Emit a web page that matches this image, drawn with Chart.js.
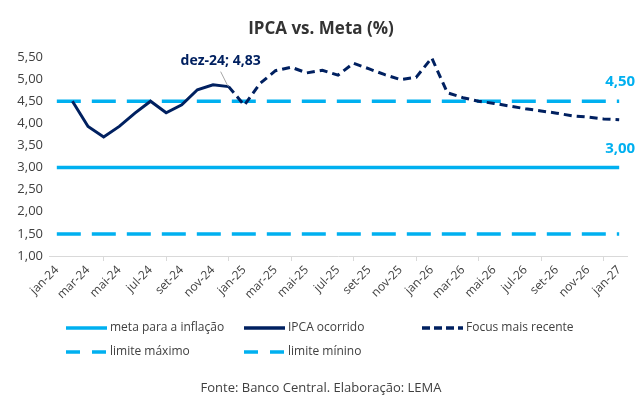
<!DOCTYPE html>
<html>
<head>
<meta charset="utf-8">
<script src="https://cdn.jsdelivr.net/npm/chart.js@4.4.1/dist/chart.umd.min.js"></script>
<style>
  html, body { margin: 0; padding: 0; background: #fff; }
  #wrap { position: relative; width: 642px; height: 397px; font-family: "Open Sans", sans-serif; color: #404040; }
  #chart { position: absolute; left: 0; top: 0; }
  .title { position: absolute; left: 0; width: 642px; top: 16px; text-align: center; font-weight: bold; font-size: 17px; color: #333; }
  .leg { position: absolute; font-size: 12px; line-height: 16px; white-space: nowrap; }
  .leg svg { vertical-align: middle; margin-right: 3px; }
  .foot { position: absolute; left: 0; width: 642px; top: 378px; text-align: center; font-size: 13px; }
</style>
</head>
<body>
<div id="wrap">
  <canvas id="chart" width="642" height="397"></canvas>
  <div class="title">IPCA vs. Meta (%)</div>
  <div class="foot">Fonte: Banco Central. Elaboração: LEMA</div>
</div>
<script>
const months = ["jan-24","fev-24","mar-24","abr-24","mai-24","jun-24","jul-24","ago-24","set-24","out-24","nov-24","dez-24",
  "jan-25","fev-25","mar-25","abr-25","mai-25","jun-25","jul-25","ago-25","set-25","out-25","nov-25","dez-25",
  "jan-26","fev-26","mar-26","abr-26","mai-26","jun-26","jul-26","ago-26","set-26","out-26","nov-26","dez-26",
  "jan-27"];

const ipca = [null, 4.50, 3.93, 3.69, 3.93, 4.23, 4.50, 4.24, 4.42, 4.76, 4.87, 4.83];

const focus = [null, null, null, null, null, null, null, null, null, null, null, 4.83,
  4.41, 4.90, 5.19, 5.27, 5.14, 5.20, 5.09, 5.36, 5.23, 5.10, 4.99, 5.04,
  5.48, 4.69, 4.58, 4.50, 4.45, 4.39, 4.33, 4.28, 4.23, 4.17, 4.14, 4.10,
  4.08];

const meta = months.map(() => 3.00);
const limiteMax = months.map(() => 4.50);
const limiteMin = months.map(() => 1.50);

const yTicks = [1.00, 1.50, 2.00, 2.50, 3.00, 3.50, 4.00, 4.50, 5.00, 5.50];

const lightBlue = "#00B0F0";
const navy = "#002060";

const fmt = v => v.toFixed(2).replace(".", ",");

// labels on the chart (point label + end labels of target lines)
const labelPlugin = {
    id: "labels",
    afterDatasetsDraw(chart) {
        const ctx = chart.ctx;
        const x = chart.scales.x, y = chart.scales.y;
        ctx.save();
        // dez-24 callout
        const px = x.getPixelForValue(11), py = y.getPixelForValue(ipca[11]);
        ctx.strokeStyle = "#a6a6a6";
        ctx.lineWidth = 1;
        ctx.beginPath();
        ctx.moveTo(px - 1, py - 1);
        ctx.lineTo(px - 8, py - 15);
        ctx.stroke();
        ctx.font = "bold 14px 'Open Sans'";
        ctx.fillStyle = navy;
        ctx.textAlign = "center";
        ctx.textBaseline = "middle";
        ctx.fillText(months[11] + "; " + fmt(ipca[11]), px - 8, py - 26);
        // target line labels
        const last = months.length - 1;
        ctx.font = "bold 15px 'Open Sans'";
        ctx.fillStyle = lightBlue;
        ctx.fillText(fmt(limiteMax[last]), x.getPixelForValue(last) + 1, y.getPixelForValue(limiteMax[last]) - 19);
        ctx.fillText(fmt(meta[last]), x.getPixelForValue(last) + 1, y.getPixelForValue(meta[last]) - 19);
        ctx.restore();
    }
};

new Chart(document.getElementById("chart"), {
    type: "line",
    data: {
        labels: months,
        datasets: [
            { label: "IPCA ocorrido", data: ipca, borderColor: navy, borderWidth: 3, pointRadius: 0 },
            { label: "Focus mais recente", data: focus, borderColor: navy, borderWidth: 3, borderDash: [8, 5], pointRadius: 0 },
            { label: "meta para a inflação", data: meta, borderColor: lightBlue, borderWidth: 3.5, pointRadius: 0 },
            { label: "limite máximo", data: limiteMax, borderColor: lightBlue, borderWidth: 3.5, borderDash: [24, 11], pointRadius: 0 },
            { label: "limite mínino", data: limiteMin, borderColor: lightBlue, borderWidth: 3.5, borderDash: [24, 11], pointRadius: 0 }
        ]
    },
    options: {
        responsive: false,
        animation: false,
        devicePixelRatio: 1,
        layout: { padding: { top: 57, right: 15, bottom: 0, left: 0 } },
        plugins: { legend: { display: false }, tooltip: { enabled: false } },
        elements: { line: { tension: 0 } },
        scales: {
            x: {
                offset: true,
                afterFit: s => { s.height = 141; },
                grid: {
                    offset: true,
                    drawOnChartArea: false,
                    drawTicks: true,
                    tickLength: 5,
                    color: c => (c.index !== undefined && c.index % 2 === 0) ? "#d9d9d9" : "rgba(0,0,0,0)"
                },
                border: { display: true, color: "#d9d9d9" },
                ticks: {
                    autoSkip: false,
                    minRotation: 45,
                    maxRotation: 45,
                    padding: 2,
                    color: "#404040",
                    font: { family: "Open Sans", size: 12 },
                    callback: (v, i) => i % 2 === 0 ? months[i] : null
                }
            },
            y: {
                min: 1,
                max: 5.5,
                afterFit: s => { s.width = 49; },
                afterBuildTicks: s => { s.ticks = yTicks.map(v => ({ value: v })); },
                grid: { display: false, drawTicks: false },
                border: { display: false },
                ticks: {
                    padding: 6,
                    color: "#404040",
                    font: { family: "Open Sans", size: 13 },
                    callback: v => fmt(v)
                }
            }
        }
    },
    plugins: [labelPlugin]
});

// legend (HTML, fixed positions as in the original)
const legendItems = [
    { text: "meta para a inflação", color: lightBlue, dash: "", x: 66, y: 327 },
    { text: "IPCA ocorrido", color: navy, dash: "", x: 244, y: 327 },
    { text: "Focus mais recente", color: navy, dash: "8 4", x: 422, y: 327 },
    { text: "limite máximo", color: lightBlue, dash: "14 12", x: 66, y: 351 },
    { text: "limite mínino", color: lightBlue, dash: "14 12", x: 244, y: 351 }
];
const wrap = document.getElementById("wrap");
legendItems.forEach(it => {
    const d = document.createElement("div");
    d.className = "leg";
    d.style.left = it.x + "px";
    d.style.top = (it.y - 8) + "px";
    d.innerHTML = '<svg width="41" height="6"><line x1="0" y1="3" x2="41" y2="3" stroke="' + it.color +
        '" stroke-width="3.5"' + (it.dash ? ' stroke-dasharray="' + it.dash + '"' : '') + '/></svg>' + it.text;
    wrap.appendChild(d);
});
</script>
</body>
</html>
